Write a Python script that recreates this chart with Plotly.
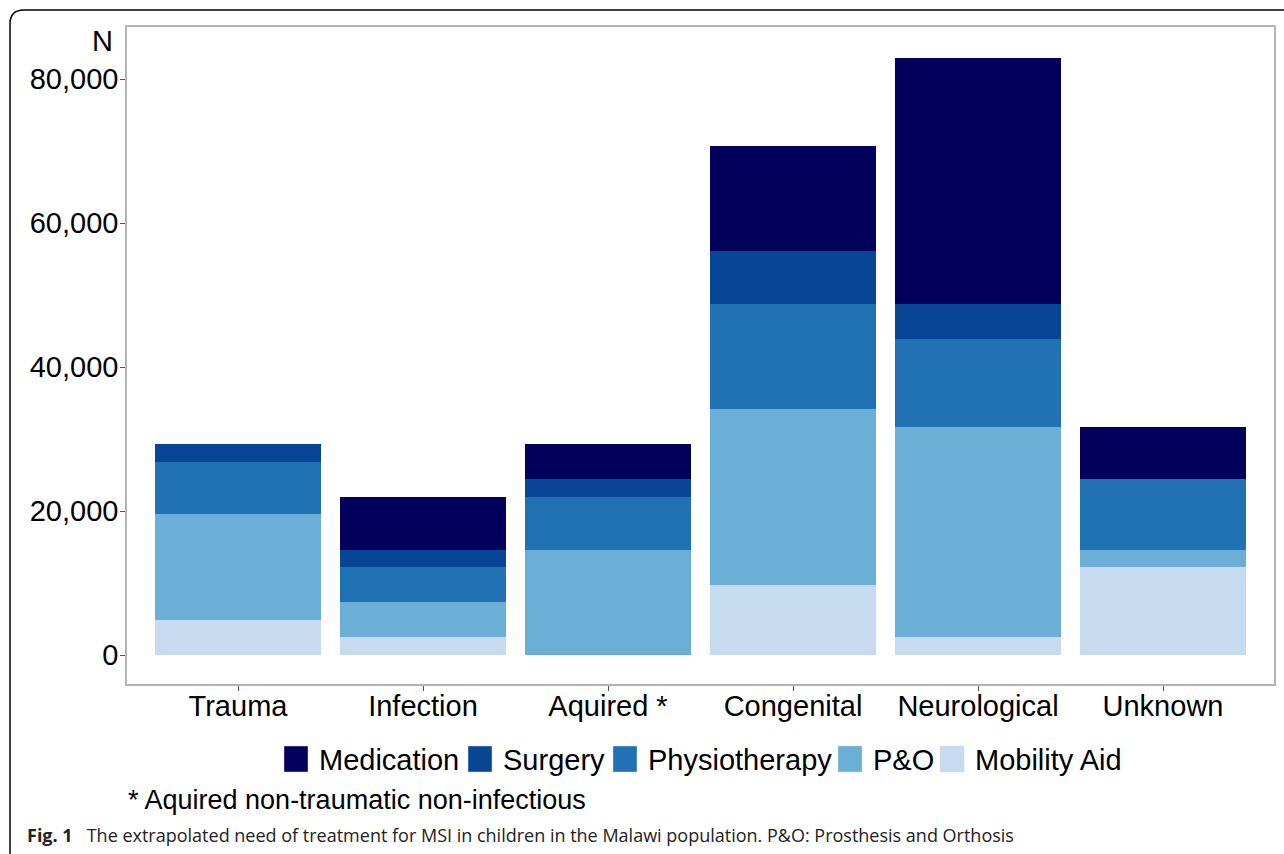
import plotly.graph_objects as go

categories = ["Trauma", "Infection", "Aquired *", "Congenital", "Neurological", "Unknown"]
series_names = ["Medication", "Surgery", "Physiotherapy", "P&O", "Mobility Aid"]
medication = [0, 7320, 4880, 14640, 34160, 7320]
surgery = [2440, 2440, 2440, 7320, 4880, 0]
physiotherapy = [7320, 4880, 7320, 14640, 12200, 9760]
p_and_o = [14640, 4880, 14640, 24400, 29280, 2440]
mobility_aid = [4880, 2440, 0, 9760, 2440, 12200]
y_ticks = [0, 20000, 40000, 60000, 80000]

colors = {
    "Medication": "#02005A",
    "Surgery": "#084594",
    "Physiotherapy": "#2171B5",
    "P&O": "#6BAED6",
    "Mobility Aid": "#C6DBEF",
}
values = {
    "Medication": medication,
    "Surgery": surgery,
    "Physiotherapy": physiotherapy,
    "P&O": p_and_o,
    "Mobility Aid": mobility_aid,
}

W, H = 1284, 854
FONT = "Liberation Sans, Arial, sans-serif"


def px(x):
    return x / W


def py(y):
    return 1 - y / H


fig = go.Figure()
# stack from bottom: Mobility Aid first
for name in reversed(series_names):
    fig.add_trace(go.Bar(
        x=categories, y=values[name], name=name,
        marker=dict(color=colors[name], line=dict(width=0)),
        showlegend=False,
    ))

fig.update_layout(
    width=W, height=H,
    margin=dict(l=0, r=0, t=0, b=0),
    barmode="stack", bargap=0.1,
    plot_bgcolor="white", paper_bgcolor="white",
    font=dict(family=FONT, size=29, color="black"),
    xaxis=dict(
        domain=[px(127), px(1274)],
        range=[-0.6, 5.6],
        showline=True, linecolor="#b3b3b3", linewidth=1.5, mirror=True,
        ticks="outside", ticklen=5, tickcolor="#555555", tickwidth=1,
        showgrid=False, zeroline=False, ticklabelstandoff=-10,
        tickfont=dict(family=FONT, size=29, color="black"),
    ),
    yaxis=dict(
        domain=[py(684), py(27)],
        range=[-4028, 87222],
        tickvals=y_ticks, tickformat=",",
        showline=True, linecolor="#b3b3b3", linewidth=1.5, mirror=True,
        ticks="outside", ticklen=5, tickcolor="#555555", tickwidth=1,
        showgrid=False, zeroline=False, ticklabelstandoff=-4,
        tickfont=dict(family=FONT, size=29, color="black"),
    ),
)

shapes = []
annotations = []

# outer rounded frame
frame = (f"M {px(1300)},{py(10)} L {px(24)},{py(10)} "
         f"Q {px(10)},{py(10)} {px(10)},{py(24)} L {px(10)},{py(870)}")
shapes.append(dict(type="path", xref="paper", yref="paper", path=frame,
                   line=dict(color="black", width=1.5)))

# y-axis title "N"
annotations.append(dict(text="N", xref="paper", yref="paper", x=px(115), y=py(41),
                        xanchor="right", yanchor="middle", showarrow=False,
                        font=dict(family=FONT, size=29, color="black")))

# manual legend
legend_sq = [284, 468, 613, 838, 940]
for name, x0 in zip(series_names, legend_sq):
    shapes.append(dict(type="rect", xref="paper", yref="paper",
                       x0=px(x0), x1=px(x0 + 24), y0=py(772), y1=py(746),
                       fillcolor=colors[name], line=dict(width=0.5, color="#cfd8e8")))
    annotations.append(dict(text=name, xref="paper", yref="paper",
                            x=px(x0 + 33), y=py(760), xanchor="left", yanchor="middle",
                            showarrow=False,
                            font=dict(family=FONT, size=29, color="black")))

# footnote
annotations.append(dict(text="* Aquired non-traumatic non-infectious", xref="paper", yref="paper",
                        x=px(126), y=py(800), xanchor="left", yanchor="middle", showarrow=False,
                        font=dict(family=FONT, size=27, color="black")))

# caption
annotations.append(dict(
    text="<b>Fig. 1</b>&nbsp;&nbsp;&nbsp;The extrapolated need of treatment for MSI in children in the Malawi population. P&O: Prosthesis and Orthosis",
    xref="paper", yref="paper", x=px(25), y=py(835), xanchor="left", yanchor="middle",
    showarrow=False, font=dict(family="Open Sans, Noto Sans, sans-serif", size=18, color="#222222")))

fig.update_layout(shapes=shapes, annotations=annotations)
fig.write_html("out.html", config={"displayModeBar": False},
               post_script="document.body.style.margin='0';document.body.style.overflow='hidden';")
